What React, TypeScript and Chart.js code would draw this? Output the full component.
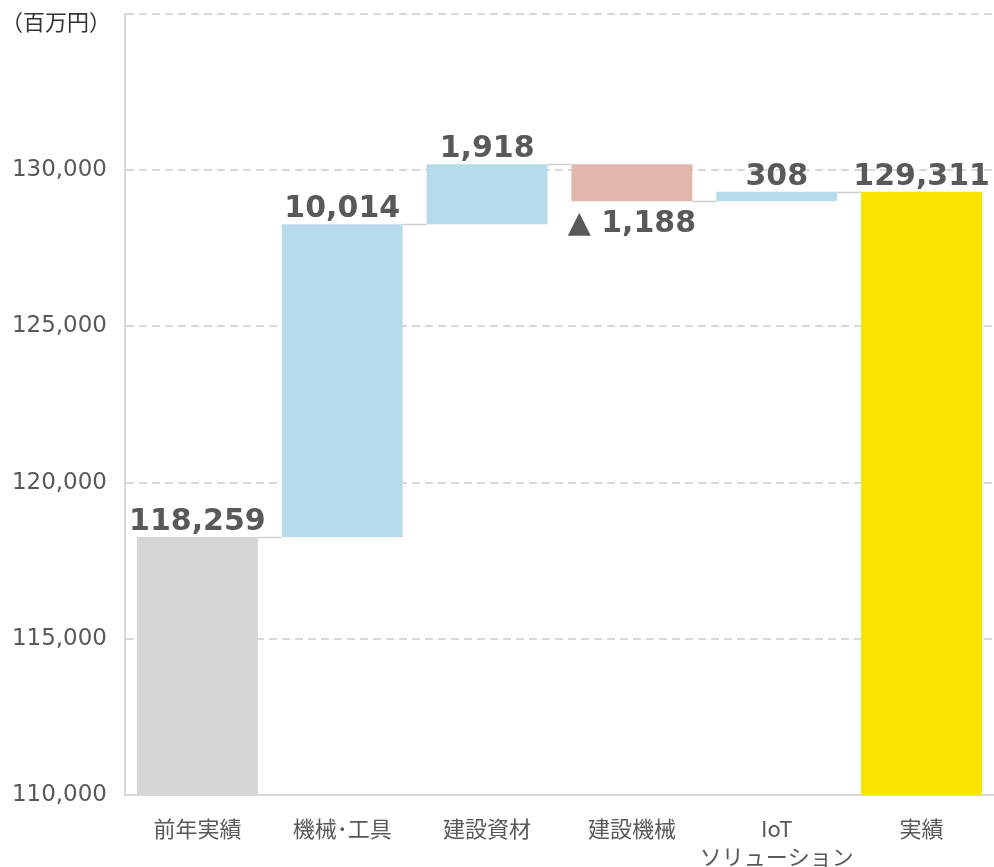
import React, { useEffect, useRef } from "react";
import { Chart, registerables } from "chart.js";

Chart.register(...registerables);

const categories: (string | string[])[] = ["前年実績", "機械･工具", "建設資材", "建設機械", ["IoT", "ソリューション"], "実績"];
const prevActual = 118259;
const deltas = [10014, 1918, -1188, 308];
const actual = 129311;
const yMin = 110000;
const yMax = 135000;
const yStep = 5000;
const unitLabel = "（百万円）";

const colorBase = "#d6d6d6";
const colorUp = "#b7dbea";
const colorDown = "#e1b7aa";
const colorTotal = "#f7e400";
const textColor = "#595959";

export default function App() {
  const ref = useRef<HTMLCanvasElement | null>(null);

  useEffect(() => {
    if (!ref.current) return;
    const ranges: [number, number][] = [];
    const ends: number[] = [];
    const labels: string[] = [];
    const colors: string[] = [];
    const below: boolean[] = [];
    ranges.push([yMin, prevActual]);
    ends.push(prevActual);
    labels.push(prevActual.toLocaleString("en-US"));
    colors.push(colorBase);
    below.push(false);
    let cum = prevActual;
    for (const d of deltas) {
      const s = cum;
      cum = cum + d;
      ranges.push([s, cum]);
      ends.push(cum);
      labels.push(d < 0 ? "▲ " + Math.abs(d).toLocaleString("en-US") : d.toLocaleString("en-US"));
      colors.push(d < 0 ? colorDown : colorUp);
      below.push(d < 0);
    }
    ranges.push([yMin, actual]);
    ends.push(actual);
    labels.push(actual.toLocaleString("en-US"));
    colors.push(colorTotal);
    below.push(false);

    const wfPlugin = {
      id: "wf",
      afterDatasetsDraw(chart: any) {
        const ctx = chart.ctx;
        const meta = chart.getDatasetMeta(0);
        const y = chart.scales.y;
        ctx.save();
        ctx.strokeStyle = "#cfcfcf";
        ctx.lineWidth = 1.5;
        for (let i = 0; i < meta.data.length - 1; i++) {
          const a = meta.data[i];
          const b = meta.data[i + 1];
          const py = Math.round(y.getPixelForValue(ends[i])) + 0.5;
          ctx.beginPath();
          ctx.moveTo(a.x + a.width / 2, py);
          ctx.lineTo(b.x - b.width / 2, py);
          ctx.stroke();
        }
        ctx.fillStyle = textColor;
        ctx.font = "bold 30px 'DejaVu Sans'";
        ctx.textAlign = "center";
        ctx.textBaseline = "alphabetic";
        for (let i = 0; i < meta.data.length; i++) {
          const el = meta.data[i];
          const top = Math.min(el.y, el.base);
          const bot = Math.max(el.y, el.base);
          if (below[i]) {
            ctx.fillText(labels[i], el.x, bot + 31);
          } else {
            ctx.fillText(labels[i], el.x, top - 7);
          }
        }
        ctx.font = "22px 'Noto Sans CJK JP'";
        ctx.textAlign = "left";
        ctx.textBaseline = "middle";
        ctx.fillStyle = "#333333";
        ctx.fillText(unitLabel, 1, 22);
        ctx.restore();
      },
    };

    const chart = new Chart(ref.current, {
      type: "bar",
      data: {
        labels: categories as any,
        datasets: [
          {
            data: ranges as any,
            backgroundColor: colors,
            borderWidth: 0,
            barPercentage: 0.835,
            categoryPercentage: 1,
            borderSkipped: false,
          },
        ],
      },
      options: {
        animation: false,
        responsive: false,
        maintainAspectRatio: false,
        layout: { padding: { top: 14, right: 0, left: 0, bottom: 0 } },
        plugins: { legend: { display: false }, tooltip: { enabled: false } },
        scales: {
          x: {
            grid: { display: false, drawTicks: false },
            border: { display: true, color: "#d9d9d9", width: 2 },
            ticks: {
              color: textColor,
              font: { family: "'Noto Sans CJK JP'", size: 22, lineHeight: 1.3 },
              padding: 19,
              maxRotation: 0,
              autoSkip: false,
            },
            afterFit(scale: any) {
              scale.height = 72;
              scale.paddingLeft = 0;
              scale.paddingRight = 0;
            },
          },
          y: {
            min: yMin,
            max: yMax,
            grid: { color: "#d9d9d9", lineWidth: 2, drawTicks: false },
            border: { display: true, color: "#d9d9d9", width: 2, dash: [8, 5] },
            ticks: {
              stepSize: yStep,
              color: textColor,
              font: { family: "'DejaVu Sans'", size: 23 },
              padding: 18,
              callback: (v: any) => (Number(v) >= yMax ? "" : Number(v).toLocaleString("en-US")),
            },
            afterFit(scale: any) {
              scale.width = 125;
              scale.paddingTop = 0;
              scale.paddingBottom = 0;
            },
          },
        },
      } as any,
      plugins: [wfPlugin],
    });
    return () => chart.destroy();
  }, []);

  return (
    <div style={{ position: "absolute", left: 0, top: 0, width: 994, height: 867, background: "#fff" }}>
      <canvas ref={ref} width={994} height={867} style={{ display: "block" }} />
    </div>
  );
}
